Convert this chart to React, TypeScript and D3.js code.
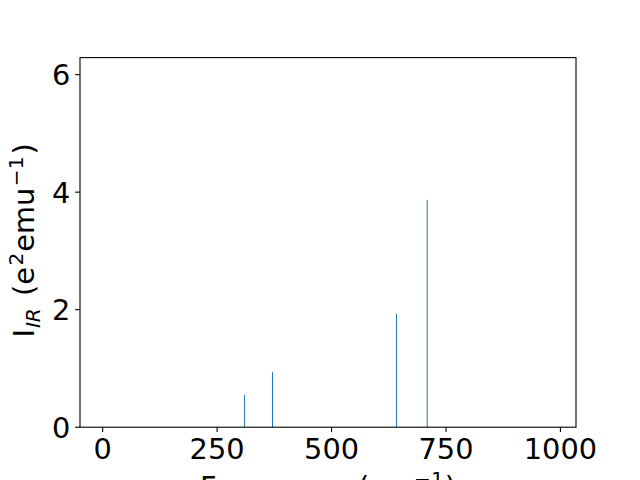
import React from "react";
import * as d3 from "d3";

const frequencies = [310, 371, 642, 709];
const intensities = [0.55, 0.935, 1.93, 3.87];
const xTicks = [0, 250, 500, 750, 1000];
const yTicks = [0, 2, 4, 6];

const W = 640, H = 480;
const L = 80, R = 576, T = 57.6, B = 427.2;
const FS = 28.8;
const FONT = "DejaVu Sans";

export default function App() {
  const x = d3.scaleLinear().domain([-49.5, 1034]).range([L, R]);
  const y = d3.scaleLinear().domain([0, 6.29]).range([B, T]);
  return (
    <svg width={W} height={H} style={{ position: "absolute", left: 0, top: 0 }} fontFamily={FONT}>
      <rect x={0} y={0} width={W} height={H} fill="#fff" />
      {frequencies.map((f, i) => (
        <line key={i} x1={x(f)} x2={x(f)} y1={y(0)} y2={y(intensities[i])} stroke="#1f77b4" strokeWidth={1} />
      ))}
      <rect x={L} y={T} width={R - L} height={B - T} fill="none" stroke="#000" strokeWidth={1.1} />
      {xTicks.map((t) => (
        <g key={t}>
          <line x1={x(t)} x2={x(t)} y1={B} y2={B + 4.9} stroke="#000" strokeWidth={1.1} />
          <text x={x(t)} y={458.5} textAnchor="middle" fontSize={FS} fill="#000">{t}</text>
        </g>
      ))}
      {yTicks.map((t) => (
        <g key={t}>
          <line x1={L} x2={L - 4.9} y1={y(t)} y2={y(t)} stroke="#000" strokeWidth={1.1} />
          <text x={70.3} y={y(t)} dy="0.36em" textAnchor="end" fontSize={FS} fill="#000">{t}</text>
        </g>
      ))}
      <text x={(L + R) / 2} y={497} textAnchor="middle" fontSize={FS} fill="#000">
        Frequency (cm<tspan fontSize={FS * 0.7} dy={-11} dx={1}>−1</tspan><tspan dy={11} dx={1}>)</tspan>
      </text>
      <text transform={`translate(34,${(T + B) / 2 - 2}) rotate(-90)`} textAnchor="middle" fontSize={FS} fill="#000">
        I<tspan fontSize={FS * 0.7} fontStyle="italic" dy={6} dx={1}>IR</tspan>
        <tspan dy={-6} dx={3}> (e</tspan>
        <tspan fontSize={FS * 0.7} dy={-11} dx={1.5}>2</tspan>
        <tspan dy={11} dx={1}>emu</tspan>
        <tspan fontSize={FS * 0.7} dy={-11} dx={1.5}>−1</tspan>
        <tspan dy={11} dx={2}>)</tspan>
      </text>
    </svg>
  );
}
